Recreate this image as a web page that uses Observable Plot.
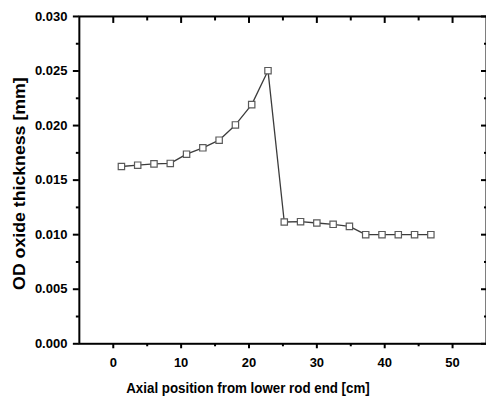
<!DOCTYPE html>
<html>
<head>
<meta charset="utf-8">
<script src="https://cdn.jsdelivr.net/npm/d3@7"></script>
<script src="https://cdn.jsdelivr.net/npm/@observablehq/plot@0.6"></script>
<style>
  html, body { margin: 0; padding: 0; background: #fff; overflow: hidden; }
  #chart { width: 486px; height: 398px; overflow: hidden; }
</style>
</head>
<body>
<div id="chart"></div>
<script>
// Axial position [cm]
const positions = [1.2, 3.6, 6.0, 8.4, 10.8, 13.2, 15.6, 18.0, 20.4, 22.8,
                   25.2, 27.6, 30.0, 32.4, 34.8, 37.2, 39.6, 42.0, 44.4, 46.8];
// OD oxide thickness [mm]
const thickness = [0.01625, 0.01637, 0.01649, 0.01653, 0.01738, 0.01796, 0.01866, 0.02006, 0.02192, 0.02503,
                   0.01116, 0.01119, 0.01107, 0.01095, 0.01076, 0.0100, 0.0100, 0.0100, 0.0100, 0.0100];

const xMajorTicks = [0, 10, 20, 30, 40, 50];
const xMinorTicks = [5, 15, 25, 35, 45];
const yMajorTicks = [0, 0.005, 0.010, 0.015, 0.020, 0.025, 0.030];
const yMinorTicks = [0.0025, 0.0075, 0.0125, 0.0175, 0.0225, 0.0275];
const xDomain = [-5, 55];
const yDomain = [0, 0.03];

const xLabel = "Axial position from lower rod end [cm]";
const yLabel = "OD oxide thickness [mm]";

const data = positions.map((p, i) => ({x: p, y: thickness[i]}));
const blank = () => "";

const chart = Plot.plot({
  width: 487,
  height: 398,
  marginLeft: 79,
  marginRight: 0,
  marginTop: 16,
  marginBottom: 54,
  style: {fontFamily: "'Liberation Sans', Arial, sans-serif", fontWeight: "bold", color: "black", background: "white"},
  x: {domain: xDomain},
  y: {domain: yDomain},
  marks: [
    Plot.frame({stroke: "black", strokeWidth: 2}),
    // bottom axis
    Plot.axisX(xMajorTicks, {anchor: "bottom", tickSize: 5, tickPadding: 9, strokeWidth: 2, fontSize: 13, fontWeight: "bold", tickFormat: d => String(d), label: null}),
    Plot.axisX(xMinorTicks, {anchor: "bottom", tickSize: 3, strokeWidth: 2, tickFormat: blank, label: null}),
    // top axis (inward)
    Plot.axisX(xMajorTicks, {anchor: "top", tickSize: -6, strokeWidth: 2, tickFormat: blank, label: null}),
    Plot.axisX(xMinorTicks, {anchor: "top", tickSize: -3.5, strokeWidth: 2, tickFormat: blank, label: null}),
    // left axis
    Plot.axisY(yMajorTicks, {anchor: "left", tickSize: 6, tickPadding: 6, strokeWidth: 2, fontSize: 13, fontWeight: "bold", tickFormat: d3.format(".3f"), label: null}),
    Plot.axisY(yMinorTicks, {anchor: "left", tickSize: 3, strokeWidth: 2, tickFormat: blank, label: null}),
    // right axis (inward)
    Plot.axisY(yMajorTicks, {anchor: "right", tickSize: -6, strokeWidth: 2, tickFormat: blank, label: null}),
    Plot.axisY(yMinorTicks, {anchor: "right", tickSize: -3, strokeWidth: 2, tickFormat: blank, label: null}),
    // data
    Plot.line(data, {x: "x", y: "y", stroke: "#3c3c3c", strokeWidth: 1.3}),
    Plot.dot(data, {x: "x", y: "y", symbol: "square", r: 3.6, fill: "white", stroke: "#5a5a5a", strokeWidth: 1.2}),
    // axis titles
    Plot.text([xLabel], {frameAnchor: "bottom", textAnchor: "middle", dx: -35, dy: 49, lineAnchor: "bottom", fontSize: 15.5, fontWeight: "bold", fill: "black"}),
    Plot.text([yLabel], {frameAnchor: "left", textAnchor: "middle", dx: -54, dy: 3.5, rotate: -90, lineAnchor: "bottom", fontSize: 16, fontWeight: "bold", fill: "black"})
  ]
});

document.getElementById("chart").appendChild(chart);

// fit axis titles to the reference lengths
d3.select(chart).selectAll("text").each(function () {
  if (this.textContent === xLabel) {
    d3.select(this).attr("textLength", 244).attr("lengthAdjust", "spacingAndGlyphs");
  } else if (this.textContent === yLabel) {
    d3.select(this).attr("textLength", 213).attr("lengthAdjust", "spacingAndGlyphs");
  }
});
</script>
</body>
</html>
